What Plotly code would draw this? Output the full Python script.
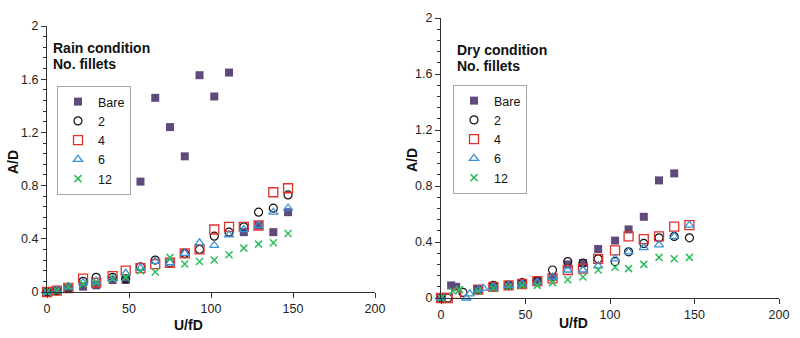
import plotly.graph_objects as go

# ---------------- Data: Rain condition ----------------
rain_x = [0, 6, 13, 22, 30, 40, 48, 57, 66, 75, 84, 93, 102, 111, 120, 129, 138, 147]
rain_bare = [0, 0.01, 0.03, 0.04, 0.05, 0.09, 0.09, 0.83, 1.46, 1.24, 1.02, 1.63, 1.47, 1.65, 0.45, 0.50, 0.45, 0.60]
rain_2 = [0, 0.01, 0.03, 0.08, 0.11, 0.11, 0.10, 0.19, 0.24, 0.22, 0.29, 0.32, 0.42, 0.45, 0.49, 0.60, 0.63, 0.73]
rain_4 = [0, 0.01, 0.03, 0.10, 0.07, 0.12, 0.16, 0.18, 0.21, 0.22, 0.29, 0.32, 0.47, 0.49, 0.49, 0.50, 0.75, 0.78]
rain_6 = [0, 0.01, 0.04, 0.07, 0.08, 0.10, 0.14, 0.18, 0.23, 0.22, 0.29, 0.37, 0.35, 0.43, 0.47, 0.50, 0.60, 0.63]
rain_12 = [0, 0.01, 0.04, 0.06, 0.07, 0.10, 0.11, 0.16, 0.15, 0.26, 0.21, 0.23, 0.24, 0.28, 0.33, 0.36, 0.37, 0.44]

# ---------------- Data: Dry condition ----------------
dry_bare_x = [0, 6, 9, 22, 31, 40, 48, 57, 66, 75, 84, 93, 103, 111, 120, 129, 138]
dry_bare = [0, 0.09, 0.08, 0.06, 0.08, 0.09, 0.10, 0.12, 0.15, 0.24, 0.25, 0.35, 0.41, 0.49, 0.58, 0.84, 0.89]
dry_2_x = [0, 4, 13, 22, 31, 40, 48, 57, 66, 75, 84, 93, 103, 111, 120, 129, 138, 147]
dry_2 = [0, 0, 0.04, 0.06, 0.09, 0.09, 0.11, 0.12, 0.20, 0.26, 0.25, 0.28, 0.26, 0.33, 0.39, 0.43, 0.44, 0.43]
dry_4_x = [0, 4, 9, 22, 31, 40, 48, 57, 66, 75, 84, 93, 103, 111, 120, 129, 138, 147]
dry_4 = [0, 0, 0.03, 0.06, 0.08, 0.09, 0.10, 0.12, 0.14, 0.20, 0.21, 0.28, 0.34, 0.44, 0.42, 0.44, 0.51, 0.52]
dry_6_x = [0, 15, 17, 22, 25, 31, 40, 48, 57, 66, 75, 84, 93, 103, 111, 120, 129, 138, 147]
dry_6 = [0, 0, 0.03, 0.06, 0.07, 0.08, 0.09, 0.10, 0.11, 0.15, 0.20, 0.20, 0.23, 0.28, 0.33, 0.36, 0.38, 0.44, 0.52]
dry_12_x = [0, 7, 11, 22, 31, 40, 48, 57, 66, 75, 84, 93, 103, 111, 120, 129, 138, 147]
dry_12 = [0, 0.05, 0.06, 0.05, 0.07, 0.08, 0.09, 0.09, 0.11, 0.13, 0.15, 0.20, 0.22, 0.21, 0.24, 0.29, 0.28, 0.29]

series_names = ["Bare", "2", "4", "6", "12"]
y_tickvals = [0, 0.4, 0.8, 1.2, 1.6, 2]
y_ticktext = ["0", "0.4", "0.8", "1.2", "1.6", "2"]
x_tickvals = [0, 50, 100, 150, 200]

PURPLE = "#604A7B"
RED = "#E0302C"
BLUE = "#3A8FD6"
GREEN = "#2EBD5C"

styles = [
    dict(symbol="square", size=8, color=PURPLE, line=dict(width=0)),
    dict(symbol="circle-open", size=8, color="#111111", line=dict(width=1.2)),
    dict(symbol="square-open", size=9, color=RED, line=dict(width=1.3)),
    dict(symbol="triangle-up-open", size=8, color=BLUE, line=dict(width=1.3)),
    dict(symbol="x-thin-open", size=7, color=GREEN, line=dict(width=1.5, color=GREEN)),
]

fig = go.Figure()

rain_sets = [(rain_x, rain_bare), (rain_x, rain_2), (rain_x, rain_4), (rain_x, rain_6), (rain_x, rain_12)]
dry_sets = [(dry_bare_x, dry_bare), (dry_2_x, dry_2), (dry_4_x, dry_4), (dry_6_x, dry_6), (dry_12_x, dry_12)]

for name, (xs, ys), st in zip(series_names, rain_sets, styles):
    fig.add_trace(go.Scatter(x=xs, y=ys, mode="markers", name=name, marker=st,
                             xaxis="x", yaxis="y", legend="legend", cliponaxis=False))
for name, (xs, ys), st in zip(series_names, dry_sets, styles):
    fig.add_trace(go.Scatter(x=xs, y=ys, mode="markers", name=name, marker=st,
                             xaxis="x2", yaxis="y2", legend="legend2", cliponaxis=False))

W, H = 800, 338
def px(x):
    return x / W
def py(y):
    return (H - y) / H

tickfont = dict(family="Liberation Sans, Arial", size=12.5, color="#222222")
common_x = dict(range=[0, 200], tickvals=x_tickvals, showgrid=False, zeroline=False,
                showline=True, linecolor="#333333", linewidth=1, ticks="outside",
                ticklen=5, tickcolor="#333333", tickfont=tickfont, automargin=False)
common_y = dict(range=[0, 2], tickvals=y_tickvals, ticktext=y_ticktext, showgrid=False,
                zeroline=False, showline=True, linecolor="#333333", linewidth=1,
                ticks="outside", ticklen=5, tickcolor="#333333", tickfont=tickfont, automargin=False,
                minor=dict(dtick=0.08, ticks="outside", ticklen=3, tickcolor="#333333", showgrid=False))

legend_common = dict(bgcolor="white", bordercolor="#A6A6A6", borderwidth=1,
                     font=dict(family="Liberation Sans, Arial", size=12.5, color="#111111"),
                     xanchor="left", yanchor="top", itemwidth=30, tracegroupgap=0)

fig.update_layout(
    width=W, height=H, margin=dict(l=0, r=0, t=0, b=0, autoexpand=False),
    paper_bgcolor="white", plot_bgcolor="white",
    xaxis=dict(domain=[px(47), px(375)], anchor="y", **common_x),
    yaxis=dict(domain=[py(292), py(26)], anchor="x", **common_y),
    xaxis2=dict(domain=[px(441), px(779)], anchor="y2", **common_x),
    yaxis2=dict(domain=[py(298), py(18)], anchor="x2", **common_y),
    legend=dict(x=px(57), y=py(86), **legend_common),
    legend2=dict(x=px(453), y=py(85), **legend_common),
    showlegend=True,
)

bold = dict(family="Liberation Sans, Arial", size=14, color="#111111")
annots = [
    dict(text="<b>Rain condition</b>", x=px(51), y=py(48)),
    dict(text="<b>No. fillets</b>", x=px(51), y=py(64)),
    dict(text="<b>Dry condition</b>", x=px(455), y=py(50)),
    dict(text="<b>No. fillets</b>", x=px(455), y=py(66)),
]
for a in annots:
    fig.add_annotation(xref="paper", yref="paper", xanchor="left", yanchor="middle",
                       showarrow=False, font=bold, **a)

titles = [
    dict(text="<b>U/fD</b>", x=px(188), y=py(325), textangle=0),
    dict(text="<b>U/fD</b>", x=px(573), y=py(323), textangle=0),
    dict(text="<b>A/D</b>", x=px(13), y=py(162), textangle=-90),
    dict(text="<b>A/D</b>", x=px(412), y=py(160), textangle=-90),
]
for t in titles:
    fig.add_annotation(xref="paper", yref="paper", xanchor="center", yanchor="middle",
                       showarrow=False, font=bold, **t)

fig.write_html("out.html")
